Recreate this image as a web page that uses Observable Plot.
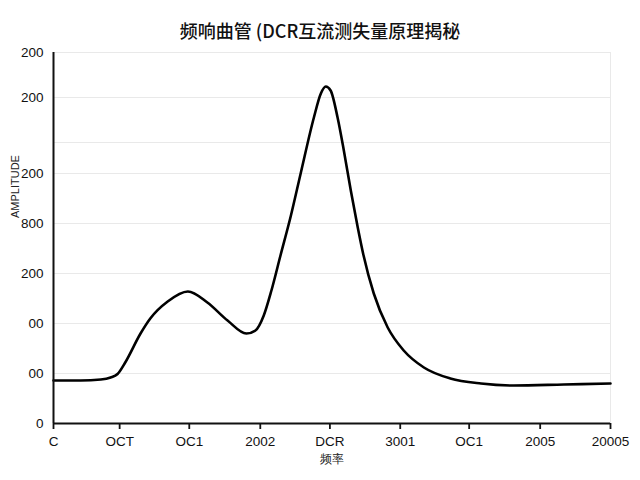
<!DOCTYPE html>
<html>
<head>
<meta charset="utf-8">
<script src="https://cdn.jsdelivr.net/npm/d3@7"></script>
<script src="https://cdn.jsdelivr.net/npm/@observablehq/plot@0.6"></script>
<style>
  html, body { margin: 0; padding: 0; background: #fff; }
  #title { height: 42px; box-sizing: border-box; padding-top: 18px; line-height: 24px; text-align: center;
           font-family: "Noto Sans CJK SC", "Noto Sans", sans-serif; font-size: 18px; font-weight: 500; color: #111; }
</style>
</head>
<body>
<div id="title"></div>
<div id="chart"></div>
<script>
const titleText = "频响曲管 (DCR互流测失量原理揭秘";
const xTitle = "频率";
const yTitle = "AMPLITUDE";
const xTickLabels = ["C", "OCT", "OC1", "2002", "DCR", "3001", "OC1", "2005", "20005"];
const xTickValues = [0, 0.95, 1.95, 2.97, 3.97, 4.98, 5.97, 6.99, 8];
const yTickValues = [0, 1, 2, 3, 4, 5, 5.62, 6.52, 7.42];
const yTickLabels = ["0", "00", "00", "200", "800", "200", "", "200", "200"];
const freqIdx = [0, 0.39, 0.68, 0.82, 0.92, 1.03, 1.25, 1.39, 1.64, 1.93, 2.21, 2.50, 2.77, 2.90, 3.02, 3.13, 3.26, 3.41, 3.55, 3.74, 3.84, 3.91, 3.98, 4.08, 4.17, 4.27, 4.37, 4.45, 4.60, 4.80, 5.03, 5.32, 5.70, 6.14, 6.61, 7.33, 8.00];
const amplitude = [0.86, 0.86, 0.88, 0.92, 0.99, 1.22, 1.80, 2.10, 2.44, 2.64, 2.42, 2.06, 1.80, 1.86, 2.16, 2.66, 3.36, 4.16, 5.00, 6.12, 6.60, 6.74, 6.66, 6.12, 5.46, 4.66, 3.92, 3.38, 2.60, 1.92, 1.46, 1.12, 0.90, 0.80, 0.76, 0.78, 0.80];

document.getElementById("title").textContent = titleText;
const data = freqIdx.map((x, i) => ({x, y: amplitude[i]}));
const font = "Liberation Sans, Arial, sans-serif";

const chart = Plot.plot({
  width: 640,
  height: 438,
  marginLeft: 53,
  marginRight: 30,
  marginTop: 10,
  marginBottom: 57,
  style: {fontFamily: font, color: "#111", background: "#fff"},
  x: {domain: [0, 8]},
  y: {domain: [0, 7.42]},
  marks: [
    Plot.ruleY(yTickValues.slice(1), {stroke: "#e9e9e9", strokeWidth: 1}),
    Plot.ruleX([8], {stroke: "#e9e9e9", strokeWidth: 1}),
    Plot.line(data, {x: "x", y: "y", curve: "monotone-x", stroke: "#000", strokeWidth: 2.6}),
    Plot.axisY({ticks: yTickValues, tickFormat: (d, i) => yTickLabels[i], tickSize: 0, tickPadding: 10, fontSize: 13.5, label: null}),
    Plot.axisX({ticks: xTickValues, tickFormat: (d, i) => xTickLabels[i], tickSize: 6, tickPadding: 7, fontSize: 13.5, label: null, strokeWidth: 1.8, stroke: "#111"}),
    Plot.ruleX([0], {stroke: "#111", strokeWidth: 2}),
    Plot.ruleY([0], {stroke: "#111", strokeWidth: 2}),
    Plot.text([xTitle], {frameAnchor: "bottom", dy: 39, fontSize: 12, fill: "#222"}),
    Plot.text([yTitle], {frameAnchor: "left", dx: -38, dy: -20, rotate: -90, fontSize: 11, fill: "#222"})
  ]
});
document.getElementById("chart").appendChild(chart);
</script>
</body>
</html>
